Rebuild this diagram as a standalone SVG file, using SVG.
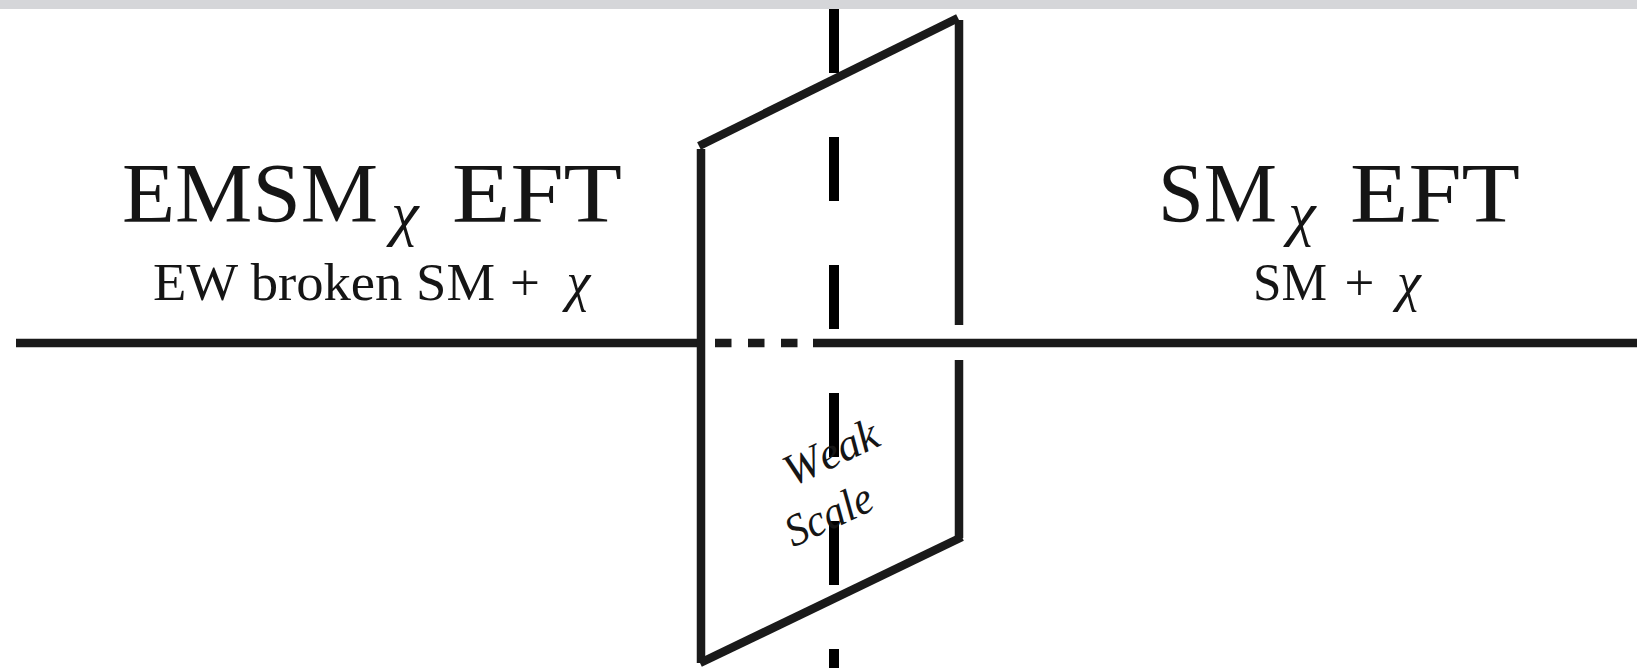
<svg xmlns="http://www.w3.org/2000/svg" width="1637" height="668" viewBox="0 0 1637 668">
  <style>
    .ln { stroke: #1a1a1a; stroke-width: 8.5; fill: none; stroke-linecap: butt; }
    .title { font-family: "Liberation Serif", "DejaVu Serif", serif; font-size: 84px; fill: #151515; }
    .sub { font-family: "Liberation Serif", "DejaVu Serif", serif; font-size: 53px; fill: #151515; }
    .chi { font-family: "Liberation Serif", "DejaVu Serif", serif; font-style: italic; fill: #151515; }
    .ws { font-family: "Liberation Serif", "DejaVu Serif", serif; font-style: italic; font-size: 45px; fill: #151515; }
  </style>
  <rect x="0" y="0" width="1637" height="668" fill="#ffffff"/>
  <rect x="0" y="0" width="1637" height="9" fill="#d5d6d9"/>

  <g id="connectors">
    <line class="ln" x1="16" y1="343" x2="697" y2="343"/>
    <line class="ln" x1="715" y1="343" x2="813" y2="343" stroke-dasharray="16.5 16.5"/>
    <line class="ln" x1="813" y1="343" x2="1637" y2="343"/>
    <line x1="834" y1="9" x2="834" y2="668" stroke="#000" stroke-width="10" stroke-dasharray="64 64"/>
  </g>

  <g id="weak-scale-plane">
    <line class="ln" x1="701" y1="149" x2="701" y2="663"/>
    <line class="ln" x1="699" y1="146" x2="958" y2="18"/>
    <line class="ln" x1="959" y1="20" x2="959" y2="325"/>
    <line class="ln" x1="959" y1="360" x2="959" y2="538"/>
    <line class="ln" x1="700" y1="663" x2="962" y2="537"/>
    <text class="ws" x="837" y="466" text-anchor="middle" transform="rotate(-25 837 466)">W<tspan dx="4">eak</tspan></text>
    <text class="ws" x="835" y="528" text-anchor="middle" textLength="92" lengthAdjust="spacingAndGlyphs" transform="rotate(-25 835 528)">Scale</text>
  </g>

  <g id="emsm-eft">
    <text class="title" x="122" y="222" textLength="256" lengthAdjust="spacingAndGlyphs">EMSM</text>
    <text class="chi" x="405" y="234" font-size="62" text-anchor="middle">χ</text>
    <text class="title" x="452" y="222" textLength="170" lengthAdjust="spacingAndGlyphs">EFT</text>
    <text class="sub" x="153" y="300" textLength="342" lengthAdjust="spacingAndGlyphs">EW broken SM</text>
    <text class="sub" x="525" y="300" text-anchor="middle">+</text>
    <text class="chi" x="578.5" y="300" font-size="54" text-anchor="middle">χ</text>
  </g>

  <g id="sm-eft">
    <text class="title" x="1158" y="222" textLength="119" lengthAdjust="spacingAndGlyphs">SM</text>
    <text class="chi" x="1302" y="234" font-size="62" text-anchor="middle">χ</text>
    <text class="title" x="1350" y="222" textLength="170" lengthAdjust="spacingAndGlyphs">EFT</text>
    <text class="sub" x="1253" y="300" textLength="74" lengthAdjust="spacingAndGlyphs">SM</text>
    <text class="sub" x="1359.5" y="300" text-anchor="middle">+</text>
    <text class="chi" x="1409" y="300" font-size="54" text-anchor="middle">χ</text>
  </g>
</svg>
